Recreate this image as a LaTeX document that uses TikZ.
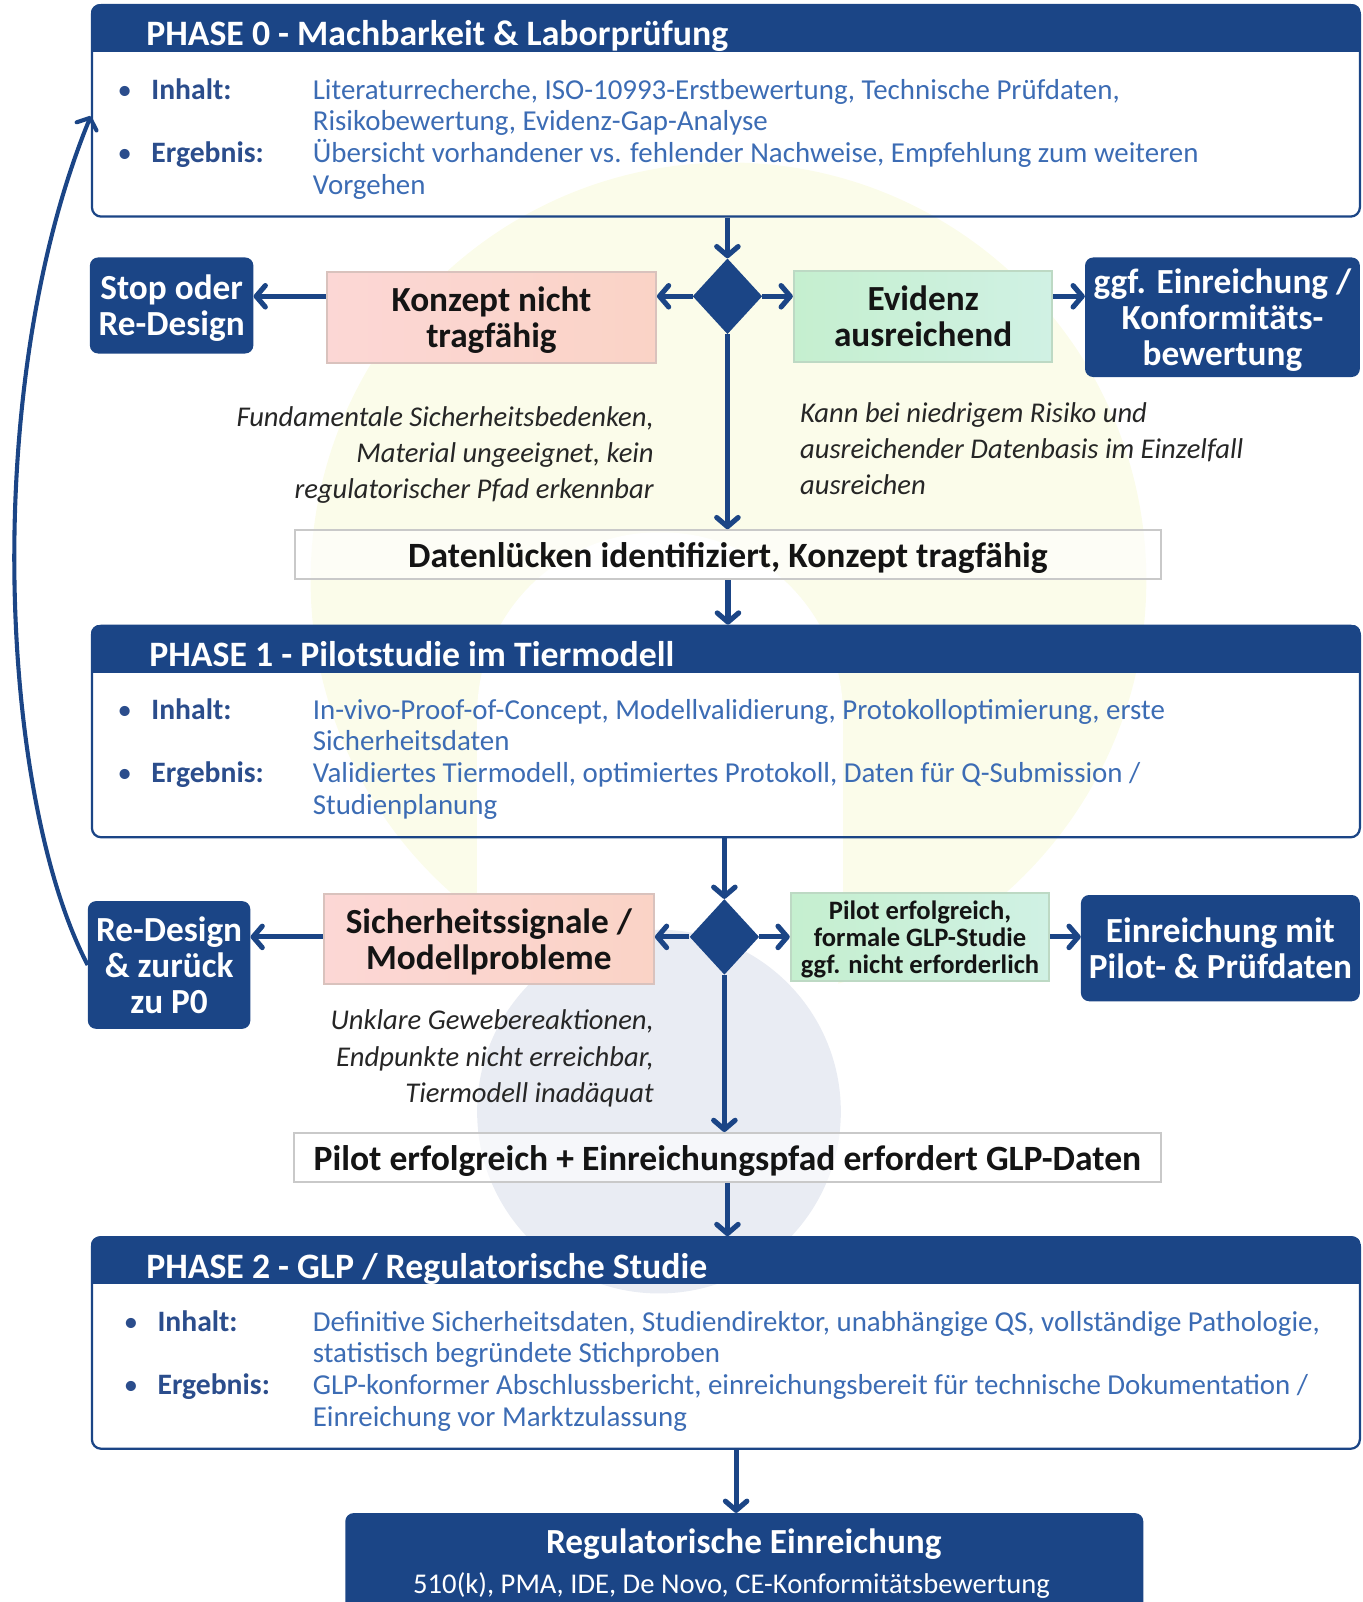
\documentclass[tikz,border=0pt]{standalone}
\usepackage{fontspec}
\setmainfont{Carlito}
\usetikzlibrary{arrows.meta,shapes.geometric,calc}
\definecolor{dkblue}{HTML}{1B4586}
\definecolor{txtblue}{HTML}{3C6CB4}
\definecolor{labblue}{HTML}{2B4D8C}
\definecolor{pinkA}{HTML}{FCD7D5}
\definecolor{pinkB}{HTML}{FAD3C6}
\definecolor{pinkline}{HTML}{D9C2BD}
\definecolor{greenA}{HTML}{C5EFCF}
\definecolor{greenB}{HTML}{D0F1E4}
\definecolor{greenline}{HTML}{BDD9C4}
\definecolor{grayline}{HTML}{C9C9C9}
\definecolor{wmyellow}{HTML}{FBFCEA}
\definecolor{wmgray}{HTML}{E9ECF3}
\begin{document}
\begin{tikzpicture}[x=1pt,y=-1pt,
 arr/.style={draw=dkblue, line width=5pt, -{Straight Barb[length=9pt,width=21pt,round]}},
 phase/.style={draw=dkblue, line width=2.2pt, rounded corners=9pt, minimum width=1241pt, minimum height=207pt, inner sep=0pt},
 hdr/.style={anchor=base west, inner sep=0pt, text=white, font=\fontsize{35}{36}\selectfont\bfseries},
 lab/.style={anchor=base west, inner sep=0pt, text=labblue, font=\fontsize{29}{31}\selectfont\bfseries},
 cont/.style={anchor=base west, inner sep=0pt, text=txtblue, font=\fontsize{28.3}{31}\selectfont},
 bul/.style={anchor=base west, inner sep=0pt, text=labblue, font=\fontsize{28}{31}\selectfont},
 bluebox/.style={fill=dkblue, rounded corners=8pt, text=white, align=center, inner sep=0pt, text depth=0pt, font=\fontsize{34.5}{35}\selectfont\bfseries},
 pinkbox/.style={draw=pinkline, line width=2pt, left color=pinkA, right color=pinkB, align=center, inner sep=0pt, text depth=0pt, text=black!92, font=\fontsize{34.5}{35}\selectfont\bfseries},
 greenbox/.style={draw=greenline, line width=2pt, left color=greenA, right color=greenB, align=center, inner sep=0pt, text depth=0pt, text=black!92, font=\fontsize{34.5}{35}\selectfont\bfseries},
 greensm/.style={greenbox, font=\fontsize{26}{26.5}\selectfont\bfseries},
 graybox/.style={draw=grayline, line width=2pt, fill=white, fill opacity=0.6, text opacity=1, inner sep=0pt, text depth=0pt, text=black!92, font=\fontsize{34.8}{35}\selectfont\bfseries},
 note/.style={inner sep=0pt, font=\fontsize{28}{35.5}\selectfont\itshape, text=black!85},
 dec/.style={diamond, fill=dkblue, minimum width=68pt, minimum height=74pt, inner sep=0pt}
]
\useasboundingbox (0,0) rectangle (1334,1568);
% watermark
\fill[wmyellow] (713,568) circle (409);
\fill[white, rounded corners=178pt] (467,521) rectangle (825,1100);
\fill[wmgray] (645,1088) circle (178);

% ---------- PHASE 0
\node[phase] (p0) at (710.5,108.5) {};
\begin{scope}
\clip[rounded corners=9pt] (p0.north west) rectangle (p0.south east);
\fill[dkblue] (p0.north west) rectangle ([yshift=-47pt]p0.north east);
\end{scope}
\node[hdr] (p0h) at (143,45) {PHASE 0 - Machbarkeit \& Laborprüfung};
\node[bul] (p0b1) at (115,97) {•};
\node[lab] (p0l1) at (148,97) {Inhalt:};
\node[cont] (p0c1) at (306,97) {Literaturrecherche, ISO-10993-Erstbewertung, Technische Prüfdaten,};
\node[cont] (p0c2) at (306,128) {Risikobewertung, Evidenz-Gap-Analyse};
\node[bul] (p0b2) at (115,159) {•};
\node[lab] (p0l2) at (148,159) {Ergebnis:};
\node[cont] (p0c3) at (306,159) {Übersicht vorhandener vs. fehlender Nachweise, Empfehlung zum weiteren};
\node[cont] (p0c4) at (306,190) {Vorgehen};

% ---------- decision 1
\node[bluebox, minimum width=160pt, minimum height=94pt] (stop) at (168,299) {Stop oder\\Re-Design};
\node[pinkbox, minimum width=322pt, minimum height=89pt] (konz) at (481,310.5) {Konzept nicht\\tragfähig};
\node[dec] (d1) at (712,290) {};
\node[greenbox, minimum width=253pt, minimum height=89pt] (evid) at (903.5,309.5) {Evidenz\\ausreichend};
\node[bluebox, minimum width=269pt, minimum height=117pt] (ggf) at (1196.5,310.5) {ggf. Einreichung /\\Konformitäts-\\bewertung};
\node[note, align=right, anchor=east] (n1) at (640,445.5) {Fundamentale Sicherheitsbedenken,\\Material ungeeignet, kein\\regulatorischer Pfad erkennbar};
\node[note, align=left, anchor=west] (n2) at (783,439) {Kann bei niedrigem Risiko und\\ausreichender Datenbasis im Einzelfall\\ausreichen};
\node[graybox, minimum width=847pt, minimum height=48pt] (daten) at (712.5,543) {Datenlücken identifiziert, Konzept tragfähig};

% ---------- PHASE 1
\node[phase] (p1) at (710.5,716) {};
\begin{scope}
\clip[rounded corners=9pt] (p1.north west) rectangle (p1.south east);
\fill[dkblue] (p1.north west) rectangle ([yshift=-47pt]p1.north east);
\end{scope}
\node[hdr] (p1h) at (146,652) {PHASE 1 - Pilotstudie im Tiermodell};
\node[bul] (p1b1) at (115,704) {•};
\node[lab] (p1l1) at (148,704) {Inhalt:};
\node[cont] (p1c1) at (306,704) {In-vivo-Proof-of-Concept, Modellvalidierung, Protokolloptimierung, erste};
\node[cont] (p1c2) at (306,735) {Sicherheitsdaten};
\node[bul] (p1b2) at (115,766) {•};
\node[lab] (p1l2) at (148,766) {Ergebnis:};
\node[cont] (p1c3) at (306,766) {Validiertes Tiermodell, optimiertes Protokoll, Daten für Q-Submission /};
\node[cont] (p1c4) at (306,797) {Studienplanung};

% ---------- decision 2
\node[pinkbox, minimum width=323pt, minimum height=88pt] (sich) at (478.5,919) {Sicherheitssignale /\\Modellprobleme};
\node[dec] (d2) at (709,917) {};
\node[greensm, minimum width=253pt, minimum height=86pt] (pok) at (900.5,917) {Pilot erfolgreich,\\formale GLP-Studie\\ggf. nicht erforderlich};
\node[bluebox, minimum width=273pt, minimum height=104pt] (einr) at (1194.5,928) {Einreichung mit\\Pilot- \& Prüfdaten};
\node[bluebox, minimum width=159pt, minimum height=125pt] (redes) at (165.5,944.5) {Re-Design\\\& zurück\\zu P0};
\node[note, align=right, anchor=east] (n3) at (640,1036) {Unklare Gewebereaktionen,\\Endpunkte nicht erreichbar,\\Tiermodell inadäquat};
\node[graybox, minimum width=848pt, minimum height=48pt] (pilot) at (712,1133) {Pilot erfolgreich + Einreichungspfad erfordert GLP-Daten};

% ---------- PHASE 2
\node[phase] (p2) at (710.5,1314.5) {};
\begin{scope}
\clip[rounded corners=9pt] (p2.north west) rectangle (p2.south east);
\fill[dkblue] (p2.north west) rectangle ([yshift=-47pt]p2.north east);
\end{scope}
\node[hdr] (p2h) at (143,1251) {PHASE 2 - GLP / Regulatorische Studie};
\node[bul] (p2b1) at (121,1303) {•};
\node[lab] (p2l1) at (154,1303) {Inhalt:};
\node[cont] (p2c1) at (306,1303) {Definitive Sicherheitsdaten, Studiendirektor, unabhängige QS, vollständige Pathologie,};
\node[cont] (p2c2) at (306,1334) {statistisch begründete Stichproben};
\node[bul] (p2b2) at (121,1365) {•};
\node[lab] (p2l2) at (154,1365) {Ergebnis:};
\node[cont] (p2c3) at (306,1365) {GLP-konformer Abschlussbericht, einreichungsbereit für technische Dokumentation /};
\node[cont] (p2c4) at (306,1396) {Einreichung vor Marktzulassung};

% ---------- regulatory
\node[bluebox, minimum width=781pt, minimum height=140pt] (reg) at (728.5,1551) {};
\node[inner sep=0pt, text=white, font=\fontsize{34.5}{36}\selectfont\bfseries] (regt) at (728,1511) {Regulatorische Einreichung};
\node[inner sep=0pt, text=white, font=\fontsize{28}{30}\selectfont] (regs) at (716,1552) {510(k), PMA, IDE, De Novo, CE-Konformitätsbewertung};
\coordinate (rt) at ([xshift=-8pt]reg.north);

% ---------- connectors
\draw[arr] (d1.north |- p0.south) -- (d1.north);
\draw[arr] (d1.west) -- (d1.west -| konz.east);
\draw[arr] (d1.east) -- (d1.east -| evid.west);
\draw[arr] (evid.east |- d1) -- (ggf.west |- d1);
\draw[arr] (konz.west |- d1) -- (stop.east |- d1);
\draw[arr] (d1.south) -- (d1.south |- daten.north);
\draw[arr] (daten.south) -- (daten.south |- p1.north);
\draw[arr] (d2.north |- p1.south) -- (d2.north);
\draw[arr] (d2.west) -- (d2.west -| sich.east);
\draw[arr] (d2.east) -- (d2.east -| pok.west);
\draw[arr] (sich.west |- d2) -- (redes.east |- d2);
\draw[arr] (pok.east |- d2) -- (einr.west |- d2);
\draw[arr] (d2.south) -- (d2.south |- pilot.north);
\draw[arr] (pilot.south) -- (pilot.south |- p2.north);
\draw[arr] (rt |- p2.south) -- (rt);
\draw[arr, line width=4pt] (redes.west) .. controls (0,780) and (-20,380) .. ([yshift=-5pt]p0.west);
\end{tikzpicture}
\end{document}
